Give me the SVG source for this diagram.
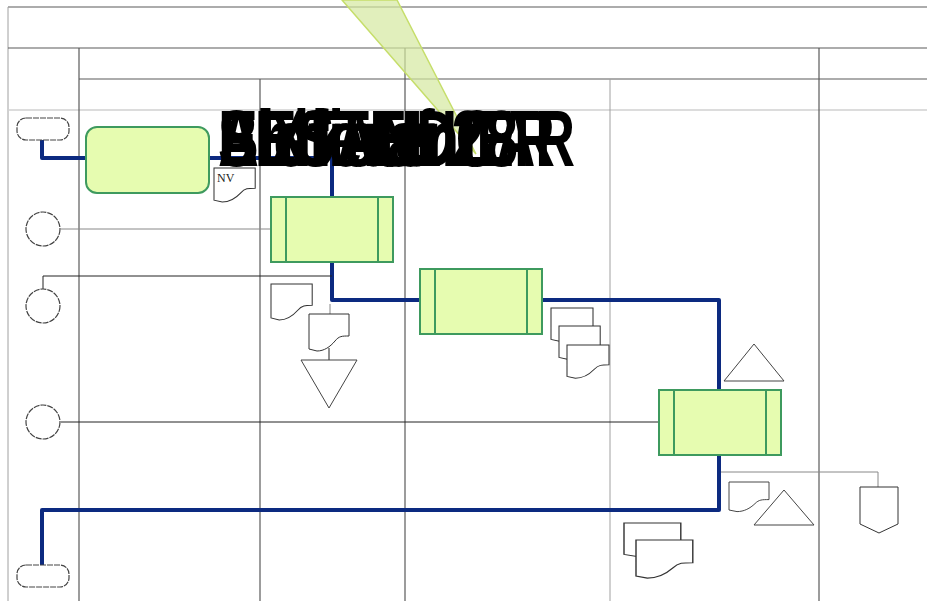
<svg xmlns="http://www.w3.org/2000/svg" width="927" height="601" viewBox="0 0 927 601">
<defs>
<style>
.grid{stroke:#5a5a5a;stroke-width:1.2;fill:none}
.lgrid{stroke:#a0a0a0;stroke-width:1;fill:none}
.vlgrid{stroke:#d0d0d0;stroke-width:1.5;fill:none}
.flow{stroke:#0c2a80;stroke-width:4;fill:none;stroke-linejoin:round}
.thin{stroke:#222;stroke-width:1;fill:none}
.thing{stroke:#888;stroke-width:1;fill:none}
.act{fill:#e6fcb0;stroke:#3e9a5e;stroke-width:2}
.actl{stroke:#3e9a5e;stroke-width:2}
.ev{fill:#fff;stroke:#444;stroke-width:1.2;stroke-dasharray:6 1}
.doc{fill:#fff;stroke:#333;stroke-width:1}
.tri{fill:#fff;stroke:#444;stroke-width:1}
.big{font-family:"Liberation Sans",Arial,sans-serif;font-size:80px;font-weight:bold;fill:#000}
</style>
<path id="docp" d="M0,0 H40 V22 C33,22 30,22 26,27 C21,33 15,37 8,37 L0,35 Z"/>
</defs>
<rect width="927" height="601" fill="#fff"/>
<g id="grid">
<line class="grid" x1="8" y1="7" x2="927" y2="7"/>
<line class="lgrid" x1="8" y1="7" x2="8" y2="601"/>
<line class="grid" x1="8" y1="48" x2="927" y2="48"/>
<line class="grid" x1="79" y1="79" x2="927" y2="79"/>
<line class="vlgrid" x1="8" y1="110" x2="927" y2="110"/>
<line class="grid" x1="79" y1="48" x2="79" y2="601"/>
<line class="grid" x1="405" y1="48" x2="405" y2="601"/>
<line class="grid" x1="819" y1="48" x2="819" y2="601"/>
<line class="grid" x1="260" y1="79" x2="260" y2="601"/>
<line class="lgrid" x1="610" y1="79" x2="610" y2="601"/>
</g>
<g id="wedge">
<polygon points="342,0 397,0 476,154" fill="#d4e8a0" fill-opacity="0.7" stroke="#c6de6a" stroke-width="1.5"/>
</g>
<g id="connectors">
<polyline class="flow" points="42,140 42,158 88,158"/>
<polyline class="flow" points="209,158 332,158 332,197"/>
<polyline class="flow" points="332,262 332,300 420,300"/>
<polyline class="flow" points="542,300 719,300 719,390"/>
<polyline class="flow" points="719,455 719,510 42,510 42,565"/>
<line class="thing" x1="61" y1="229" x2="271" y2="229"/>
<polyline class="thin" points="43,289 43,276 332,276"/>
<line class="thin" x1="61" y1="422" x2="659" y2="422"/>
<line class="thing" x1="330" y1="304" x2="330" y2="314"/>
<line class="thin" x1="329" y1="348" x2="329" y2="360"/>
<polyline class="thing" points="721,472 878,472 878,487"/>
</g>
<g id="start"><rect class="ev" x="17" y="118" width="52" height="22" rx="9"/></g>
<g id="end"><rect class="ev" x="17" y="565" width="52" height="22" rx="9"/></g>
<g id="ev1"><circle class="ev" cx="43" cy="229" r="17"/></g>
<g id="ev2"><circle class="ev" cx="43" cy="306" r="17"/></g>
<g id="ev3"><circle class="ev" cx="43" cy="422" r="17"/></g>
<g id="box1"><rect class="act" x="86" y="127" width="123" height="66" rx="11"/></g>
<g id="box2"><rect class="act" x="271" y="197" width="122" height="65"/><line class="actl" x1="286" y1="197" x2="286" y2="262"/><line class="actl" x1="378" y1="197" x2="378" y2="262"/></g>
<g id="box3"><rect class="act" x="420" y="269" width="122" height="65"/><line class="actl" x1="435" y1="269" x2="435" y2="334"/><line class="actl" x1="527" y1="269" x2="527" y2="334"/></g>
<g id="box4"><rect class="act" x="659" y="390" width="122" height="65"/><line class="actl" x1="674" y1="390" x2="674" y2="455"/><line class="actl" x1="766" y1="390" x2="766" y2="455"/></g>
<g id="docNV"><use href="#docp" class="doc" transform="translate(214,168) scale(1.03,0.92)"/><text x="217" y="182" font-family="Liberation Serif,serif" font-size="12" fill="#222">NV</text></g>
<g id="docA"><use href="#docp" class="doc" transform="translate(271,284) scale(1.03,0.97)"/></g>
<g id="docB"><use href="#docp" class="doc" transform="translate(309,314)"/></g>
<g id="tri1"><polygon class="tri" points="301,360 357,360 329,408"/></g>
<g id="docs3"><use href="#docp" class="doc" transform="translate(551,308) scale(1.05,0.9)"/><use href="#docp" class="doc" transform="translate(559,326) scale(1.03,0.9)"/><use href="#docp" class="doc" transform="translate(567,345) scale(1.05,0.9)"/></g>
<g id="tri2"><polygon class="tri" points="724,381 784,381 754,344"/></g>
<g id="docC"><use href="#docp" class="doc" transform="translate(729,482) scale(1,0.8)"/></g>
<g id="tri3"><polygon class="tri" points="754,525 814,525 784,490"/></g>
<g id="offpage"><polygon class="doc" points="860,487 898,487 898,524 879,533 860,524"/></g>
<g id="docs2"><use href="#docp" class="doc" transform="translate(624,523) scale(1.42,0.9)"/><use href="#docp" class="doc" transform="translate(636,540) scale(1.42,1.03)"/></g>
<g id="labels">
<text class="big" x="218" y="166" textLength="230" lengthAdjust="spacingAndGlyphs">Anbieter</text>
<text class="big" x="218" y="166" textLength="262" lengthAdjust="spacingAndGlyphs">Lieferant</text>
<text class="big" x="218" y="166" textLength="357" lengthAdjust="spacingAndGlyphs">SIXTANDCAR</text>
<text class="big" x="218" y="166" textLength="337" lengthAdjust="spacingAndGlyphs">BESTELLER</text>
<text class="big" x="218" y="166" textLength="300" lengthAdjust="spacingAndGlyphs">Einkauf 28</text>
</g>
</svg>
